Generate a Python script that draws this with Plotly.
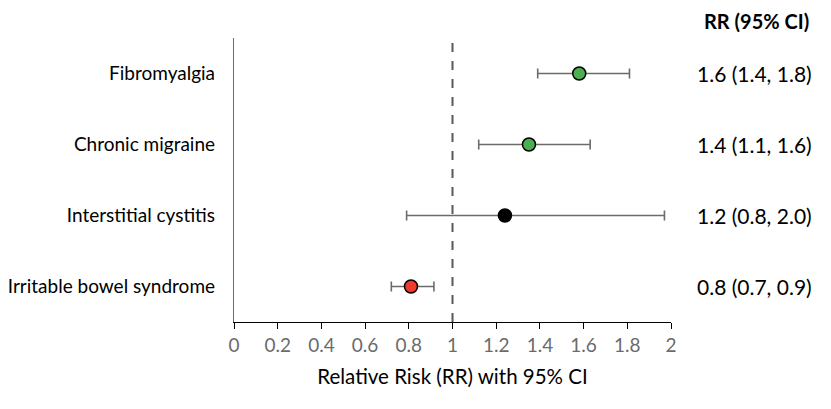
import plotly.graph_objects as go

categories = ["Fibromyalgia", "Chronic migraine", "Interstitial cystitis", "Irritable bowel syndrome"]
rr = [1.58, 1.35, 1.24, 0.81]
ci_low = [1.39, 1.12, 0.79, 0.72]
ci_high = [1.81, 1.63, 1.97, 0.915]
labels = ["1.6 (1.4, 1.8)", "1.4 (1.1, 1.6)", "1.2 (0.8, 2.0)", "0.8 (0.7, 0.9)"]
colors = ["#4CAF50", "#4CAF50", "#000000", "#EE3B2B"]
x_ticks = [0, 0.2, 0.4, 0.6, 0.8, 1, 1.2, 1.4, 1.6, 1.8, 2]
x_tick_text = ["0", "0.2", "0.4", "0.6", "0.8", "1", "1.2", "1.4", "1.6", "1.8", "2"]

FONT = "Lato, 'Open Sans', sans-serif"

fig = go.Figure()
fig.add_trace(go.Scatter(
    x=rr, y=categories, mode="markers",
    marker=dict(size=13, color=colors, line=dict(color="#000000", width=1.5)),
    error_x=dict(type="data", symmetric=False,
                 array=[h - v for h, v in zip(ci_high, rr)],
                 arrayminus=[v - l for v, l in zip(rr, ci_low)],
                 color="#6b6b6b", thickness=1.6, width=5),
    showlegend=False, hoverinfo="skip"))

fig.add_shape(type="line", xref="x", yref="paper", x0=1, x1=1, y0=0, y1=1,
              line=dict(color="#595959", width=2, dash="dash"), layer="below")

for c, t in zip(categories, labels):
    fig.add_annotation(x=1.192, xref="paper", y=c, yref="y", text=t, showarrow=False,
                       xanchor="center", font=dict(size=21, color="#000000", family=FONT))
fig.add_annotation(x=1.195, xref="paper", y=1.06, yref="paper", text="<b>RR (95% CI)</b>",
                   showarrow=False, xanchor="center", yanchor="middle",
                   font=dict(size=20, color="#000000", family=FONT))

fig.update_layout(
    width=831, height=409,
    margin=dict(l=234, r=160, t=38, b=87),
    paper_bgcolor="white", plot_bgcolor="white",
    font=dict(family=FONT, size=19, color="#000000"),
    xaxis=dict(range=[0, 2], tickvals=x_ticks, ticktext=x_tick_text,
               showgrid=False, zeroline=False, showline=True, linecolor="#000000", linewidth=1.3,
               ticks="outside", ticklen=6, tickcolor="#000000", tickwidth=1.3,
               tickfont=dict(size=19, color="#6b6b6b", family=FONT),
               title=dict(text="Relative Risk (RR) with 95% CI", standoff=14,
                          font=dict(size=20.5, color="#000000", family=FONT)),
               automargin=False),
    yaxis=dict(type="category", categoryorder="array", categoryarray=categories[::-1],
               range=[-0.5, 3.5], showgrid=False, zeroline=False, showline=True,
               linecolor="#6b6b6b", linewidth=1.3, ticks="", ticklabelstandoff=14,
               tickfont=dict(size=19, color="#000000", family=FONT), automargin=False),
)

fig.write_html("out.html")
